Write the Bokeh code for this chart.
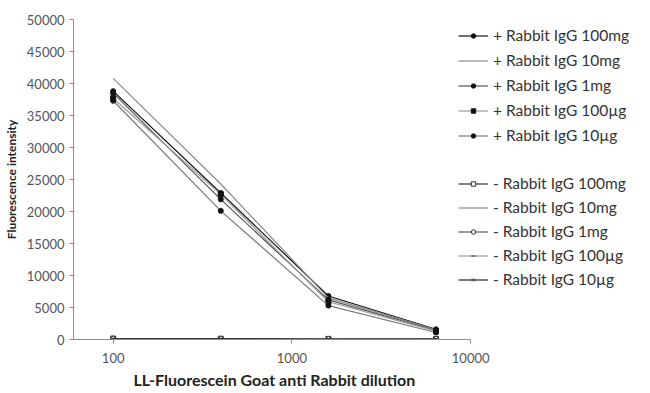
import math
from bokeh.plotting import figure
from bokeh.models import Legend, LegendItem, FixedTicker, Range1d, ColumnDataSource, Title
from bokeh.embed import file_html
from bokeh.resources import INLINE

dilution = [100, 400, 1600, 6400]

pos_labels = ["+ Rabbit IgG 100mg", "+ Rabbit IgG 10mg", "+ Rabbit IgG 1mg",
              "+ Rabbit IgG 100µg", "+ Rabbit IgG 10µg"]
neg_labels = ["- Rabbit IgG 100mg", "- Rabbit IgG 10mg", "- Rabbit IgG 1mg",
              "- Rabbit IgG 100µg", "- Rabbit IgG 10µg"]

pos_100mg = [38800, 22900, 6800, 1600]
pos_10mg = [40800, 24300, 6500, 1500]
pos_1mg = [38500, 21900, 6200, 1400]
pos_100ug = [37700, 22700, 5900, 1300]
pos_10ug = [37300, 20100, 5300, 1100]

neg_100mg = [150, 120, 100, 100]
neg_10mg = [140, 110, 100, 90]
neg_1mg = [130, 110, 90, 90]
neg_100ug = [120, 100, 90, 80]
neg_10ug = [110, 100, 80, 80]

y_ticks = [0, 5000, 10000, 15000, 20000, 25000, 30000, 35000, 40000, 45000, 50000]
x_ticks = [100, 1000, 10000]

pos_series = [pos_100mg, pos_10mg, pos_1mg, pos_100ug, pos_10ug]
neg_series = [neg_100mg, neg_10mg, neg_1mg, neg_100ug, neg_10ug]

pos_styles = [("#111111", "circle", "#111111"), ("#8a8a8a", "triangle_down", "#111111"),
              ("#555555", "circle", "#111111"), ("#9a9a9a", "square", "#111111"),
              ("#7a7a7a", "circle", "#111111")]
neg_styles = [("#333333", "square", "white"), ("#8a8a8a", "triangle_down", "#777777"),
              ("#555555", "circle", "white"), ("#9a9a9a", "dash", "#777777"),
              ("#222222", "x", "#333333")]

FONT = "Lato"

# axis spans 60..10000 over 400 px; frame is wider so that the legend sits inside it
x_start, x_end_axis = 60, 10000
axis_px, frame_px = 400, 565
x_end = x_start * 10 ** (math.log10(x_end_axis / x_start) * frame_px / axis_px)

p = figure(width=634, height=392, x_axis_type="log", output_backend="svg",
           toolbar_location=None, x_range=Range1d(x_start, x_end), y_range=Range1d(0, 50000),
           min_border_left=69, min_border_top=19, min_border_right=0,
           min_border_bottom=53)

p.outline_line_color = None
p.grid.grid_line_color = None

items_pos = []
items_neg = []
for vals, lab, (lc, mk, fc) in zip(pos_series, pos_labels, pos_styles):
    src = ColumnDataSource(dict(x=dilution, y=vals))
    r1 = p.line("x", "y", source=src, line_color=lc, line_width=1.2)
    r2 = p.scatter("x", "y", source=src, marker=mk, size=5, line_color="#111111", fill_color=fc)
    items_pos.append(LegendItem(label=lab, renderers=[r1, r2]))
for vals, lab, (lc, mk, fc) in zip(neg_series, neg_labels, neg_styles):
    src = ColumnDataSource(dict(x=dilution, y=vals))
    r1 = p.line("x", "y", source=src, line_color=lc, line_width=1.2)
    r2 = p.scatter("x", "y", source=src, marker=mk, size=5, line_color="#333333", fill_color=fc)
    items_neg.append(LegendItem(label=lab, renderers=[r1, r2]))

# location = bottom-left corner of each legend, in px from the frame's bottom-left
for items, loc, sp in ((items_pos, (385, 194), 5), (items_neg, (385, 50), 4)):
    lg = Legend(items=items, location=loc, background_fill_alpha=0, border_line_color=None,
                padding=0, margin=0, spacing=sp, glyph_width=30, glyph_height=11,
                label_height=20, label_standoff=5, label_text_font=FONT,
                label_text_font_size="15.5px", label_text_color="#333333")
    p.add_layout(lg, "center")

for ax in (p.xaxis[0], p.yaxis[0]):
    ax.axis_line_color = "#8c8c8c"
    ax.major_tick_line_color = "#8c8c8c"
    ax.minor_tick_line_color = None
    ax.major_tick_in = 0
    ax.major_tick_out = 4
    ax.major_label_text_font = FONT
    ax.major_label_text_font_size = "13px"
    ax.major_label_text_color = "#555555"
    ax.axis_label_text_font = FONT
    ax.axis_label_text_font_style = "bold"
    ax.axis_label_text_color = "#222222"

p.yaxis.axis_label_text_font_size = "12px"
p.xaxis.bounds = (x_start, x_end_axis)
p.xaxis.ticker = FixedTicker(ticks=x_ticks)
p.yaxis.ticker = FixedTicker(ticks=y_ticks)
p.xaxis.major_label_overrides = {100: "100", 1000: "1000", 10000: "10000"}
p.xaxis.major_label_standoff = 9
p.yaxis.axis_label = "Fluorescence intensity"
p.yaxis.axis_label_standoff = 5

# x-axis title, centred under the drawn axis (not under the wider frame)
xt = Title(text="LL-Fluorescein Goat anti Rabbit dilution", align="left", offset=60,
           text_font=FONT, text_font_style="bold", text_font_size="16px",
           text_color="#222222", standoff=4)
p.add_layout(xt, "below")

open("out.html", "w").write(file_html(p, INLINE))
